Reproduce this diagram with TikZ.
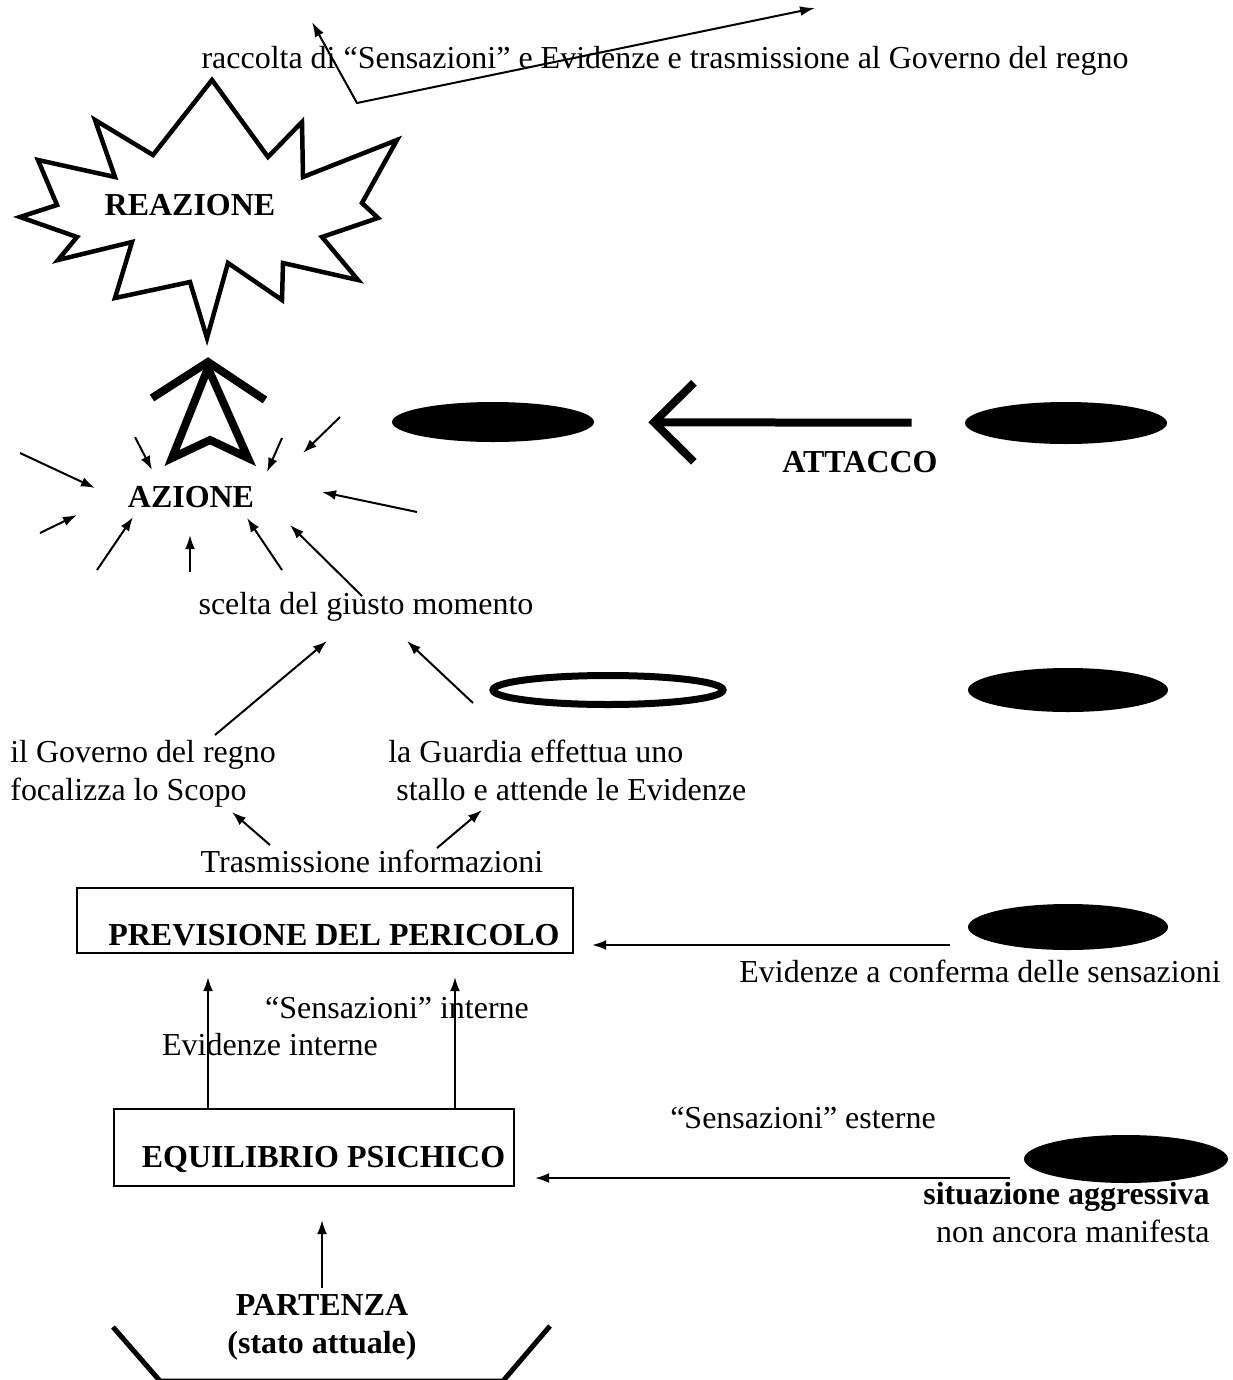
\documentclass[tikz,border=0pt]{standalone}
\usepackage{fontspec}
\setmainfont{Liberation Serif}
\usetikzlibrary{arrows.meta,calc,shapes.geometric}

\newlength{\du}
\setlength{\du}{0.02cm}

\tikzset{
  lbl/.style={font=\fontsize{18.2}{21.5}\selectfont, inner sep=0pt},
  bflbl/.style={font=\fontsize{18.2}{21.5}\selectfont\bfseries, inner sep=0pt},
  arr/.style={line width=2\du, -{Latex[length=8pt,width=5.6pt]}},
  framebox/.style={draw, line width=2\du, inner sep=0pt},
  blob/.style={ellipse, fill=black, inner sep=0pt},
}

\begin{document}
\begin{tikzpicture}[x=1\du, y=-1\du]
\useasboundingbox (0,0) rectangle (1232,1380);

% raccolta verso il governo
\node[lbl, anchor=base] (raccolta) at (665,68) {raccolta di “Sensazioni” e Evidenze e trasmissione al Governo del regno};
\coordinate (kink) at (357,103);
\coordinate (upL) at (312,22);
\coordinate (upR) at (815,8);
\draw[line width=2\du, {Latex[length=8.5pt,width=5.6pt]}-{Latex[length=8.5pt,width=5.6pt]}] (upL) -- (kink) -- (upR);

% stella
\draw[line width=4.5\du, line join=miter] (212,80) -- (268,157) -- (302,122) -- (303,177) -- (397,140) -- (362,203) -- (378,218) -- (322,237) -- (358,280) -- (283,263) -- (282,300) -- (228,263) -- (207,338) -- (190,282) -- (115,298) -- (132,242) -- (58,260) -- (77,237) -- (20,217) -- (57,205) -- (38,160) -- (115,177) -- (95,120) -- (153,155) -- cycle;
\node[bflbl, anchor=base] (reazione) at (190,215) {REAZIONE};

% freccia grossa
\draw[line width=8\du, line join=miter] (152,398) -- (208,362) -- (265,400);
\draw[line width=8\du, line join=miter] (208,368) -- (172,458) -- (210,440) -- (248,458) -- cycle;

\node[bflbl] (azione) at (191,497) {AZIONE};
\foreach \ax/\ay/\bx/\by in {-171/-44/-96/-9, -56/-60/-39/-27, 91/-59/76/-25, 149/-80/112/-44,
    226/15/131/-5, -151/36/-114/18, -94/73/-58/20, -1/75/-1/38, 91/73/56/21, 171/99/99/28}
  \draw[arr] ($(azione)+(\ax,\ay)$) -- ($(azione)+(\bx,\by)$);

% attacco
\node[blob, minimum width=202\du, minimum height=40\du] (ovL1) at (493,422) {};
\node[blob, minimum width=202\du, minimum height=42\du] (ovR1) at (1066,423) {};
\draw[line width=8\du, -{Straight Barb[length=22.7pt,width=45pt]}, shorten <=53\du, shorten >=54\du] (ovR1) -- (ovL1);
\node[bflbl, anchor=base] (attacco) at (860,472) {ATTACCO};

\node[lbl, anchor=base] (scelta) at (366,614) {scelta del giusto momento};

\node[ellipse, draw, line width=7\du, minimum width=230\du, minimum height=29\du, inner sep=0pt] (ovL2) at (608,690) {};
\node[blob, minimum width=200\du, minimum height=44\du] (ovR2) at (1068,690) {};

\node[lbl, align=left, anchor=north west] (governo) at (10,740) {il Governo del regno\\focalizza lo Scopo};
\node[lbl, align=left, anchor=north west] (guardia) at (388,740) {la Guardia effettua uno\\\hspace*{8\du}stallo e attende le Evidenze};
\draw[arr] ($(governo.north west)+(205,-5)$) -- ($(scelta.base)+(-39,27)$);
\draw[arr] ($(guardia.north west)+(85,-37)$) -- ($(scelta.base)+(41,27)$);

\node[lbl, anchor=base] (trasm) at (372,872) {Trasmissione informazioni};
\draw[arr] ($(trasm.base)+(-102,-27)$) -- ($(governo.north west)+(222,72)$);
\draw[arr] ($(trasm.base)+(65,-24)$) -- ($(guardia.north west)+(94,70)$);

% previsione
\node[framebox, bflbl, minimum width=496\du, text height=57\du, text depth=8\du, anchor=north west] (prev) at (76,887) {\hspace*{18\du}PREVISIONE DEL PERICOLO};
\node[blob, minimum width=200\du, minimum height=46\du] (ovR3) at (1068,927) {};
\coordinate (s1) at ($(ovR3.west)+(-18,18)$);
\draw[arr, shorten >=18\du] (s1) -- (s1 -| prev.east);
\node[lbl, anchor=base] (conferma) at (980,982) {Evidenze a conferma delle sensazioni};

% equilibrio
\node[framebox, bflbl, minimum width=400\du, text height=58\du, text depth=19\du, anchor=north west] (equil) at (113,1108) {\hspace*{19\du}EQUILIBRIO PSICHICO};
\coordinate (u1) at ($(equil.north west)+(95,0)$);
\coordinate (u2) at ($(equil.north west)+(342,0)$);
\draw[arr, shorten >=23\du] (u1) -- (u1 |- prev.south);
\draw[arr, shorten >=23\du] (u2) -- (u2 |- prev.south);
\node[lbl, anchor=base] (sensint) at (397,1018) {“Sensazioni” interne};
\node[lbl, anchor=base] (evint) at (270,1055) {Evidenze interne};

\node[blob, minimum width=204\du, minimum height=48\du] (ovR4) at (1126,1159) {};
\coordinate (s2) at ($(ovR4.west)+(-14,19)$);
\draw[arr, shorten >=20\du] (s2) -- (s2 -| equil.east);
\node[lbl, anchor=base] (sensest) at (803,1128) {“Sensazioni” esterne};
\node[lbl, align=right, anchor=north east] (aggr) at (1210,1182) {\textbf{situazione aggressiva}\\non ancora manifesta};

% partenza
\node[bflbl, align=center, anchor=north] (partenza) at (322,1294) {PARTENZA\\(stato attuale)};
\draw[arr, shorten <=6\du, shorten >=33\du] (partenza.north) -- (partenza.north |- equil.south);
\draw[line width=5\du, line join=miter] (113,1327) -- (160,1381) -- (503,1381) -- (550,1326);
\end{tikzpicture}
\end{document}
